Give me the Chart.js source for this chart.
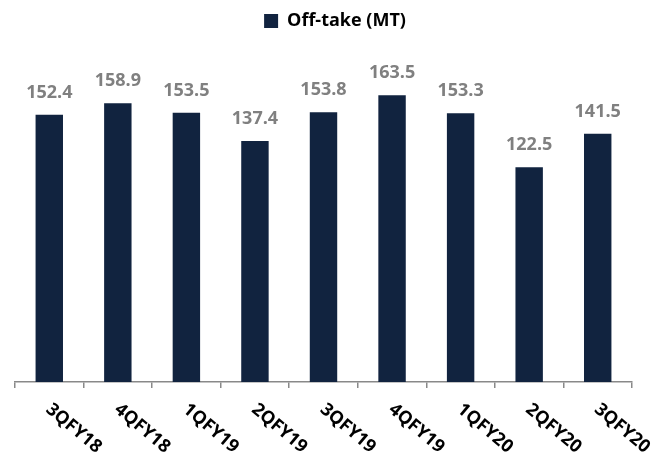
<!DOCTYPE html>
<html lang="en">
<head>
    <meta charset="UTF-8">
    <title>Off-take (MT)</title>
    <style>
        body {
            margin: 0;
            padding: 0;
            background: #fff;
        }
        .wrap {
            width: 665px;
            height: 458px;
        }
    </style>
</head>
<body>
    <div class="wrap">
        <canvas id="offtakeChart" width="665" height="458"></canvas>
    </div>

    <script src="https://cdn.jsdelivr.net/npm/chart.js"></script>
    <script>
        const quarters = ['3QFY18', '4QFY18', '1QFY19', '2QFY19', '3QFY19', '4QFY19', '1QFY20', '2QFY20', '3QFY20'];
        const offtake = [152.4, 158.9, 153.5, 137.4, 153.8, 163.5, 153.3, 122.5, 141.5];
        const seriesName = 'Off-take (MT)';

        const FONT = '"Open Sans", Arial, sans-serif';

        // value labels above each bar
        const valueLabels = {
            id: 'valueLabels',
            afterDatasetsDraw(chart) {
                const ctx = chart.ctx;
                const meta = chart.getDatasetMeta(0);
                ctx.save();
                ctx.font = 'bold 18px ' + FONT;
                ctx.fillStyle = '#808080';
                ctx.textAlign = 'center';
                ctx.textBaseline = 'alphabetic';
                meta.data.forEach((bar, i) => {
                    ctx.fillText(offtake[i].toFixed(1), bar.x, bar.y - 17);
                });
                ctx.restore();
            }
        };

        // slanted category labels (rotated clockwise, starting at the tick)
        const slantLabels = {
            id: 'slantLabels',
            afterDraw(chart) {
                const ctx = chart.ctx;
                const xs = chart.scales.x;
                ctx.save();
                ctx.font = 'bold 18px ' + FONT;
                ctx.fillStyle = '#000';
                ctx.textAlign = 'left';
                ctx.textBaseline = 'middle';
                quarters.forEach((q, i) => {
                    ctx.save();
                    ctx.translate(xs.getPixelForTick(i) - 1, xs.top + 25);
                    ctx.rotate(40 * Math.PI / 180);
                    ctx.fillText(q, 0, 0);
                    ctx.restore();
                });
                ctx.restore();
            }
        };

        new Chart(document.getElementById('offtakeChart'), {
            type: 'bar',
            data: {
                labels: quarters,
                datasets: [{
                    label: seriesName,
                    data: offtake,
                    backgroundColor: '#11233f',
                    borderWidth: 0,
                    categoryPercentage: 1,
                    barPercentage: 0.4
                }]
            },
            options: {
                responsive: false,
                animation: false,
                layout: {
                    padding: { left: 15, right: 10, top: 4, bottom: 70 }
                },
                plugins: {
                    legend: {
                        display: true,
                        position: 'top',
                        labels: {
                            boxWidth: 14,
                            boxHeight: 14,
                            padding: 8,
                            color: '#000',
                            font: { family: FONT, size: 18, weight: 'bold' }
                        }
                    },
                    tooltip: { enabled: false }
                },
                scales: {
                    x: {
                        grid: {
                            display: true,
                            drawOnChartArea: false,
                            drawTicks: true,
                            tickLength: 6,
                            color: '#898989',
                            lineWidth: 1.5,
                            offset: true
                        },
                        border: { display: true, color: '#898989', width: 1.5 },
                        ticks: { display: false }
                    },
                    y: {
                        display: false,
                        min: 0,
                        max: 195
                    },
                    // empty right-hand axis, only reserves the blank margin
                    spacer: {
                        type: 'linear',
                        position: 'right',
                        display: true,
                        grid: { display: false },
                        border: { display: false },
                        ticks: { display: false },
                        afterFit(scale) {
                            scale.width = 23;
                        }
                    }
                }
            },
            plugins: [valueLabels, slantLabels]
        });
    </script>
</body>
</html>
